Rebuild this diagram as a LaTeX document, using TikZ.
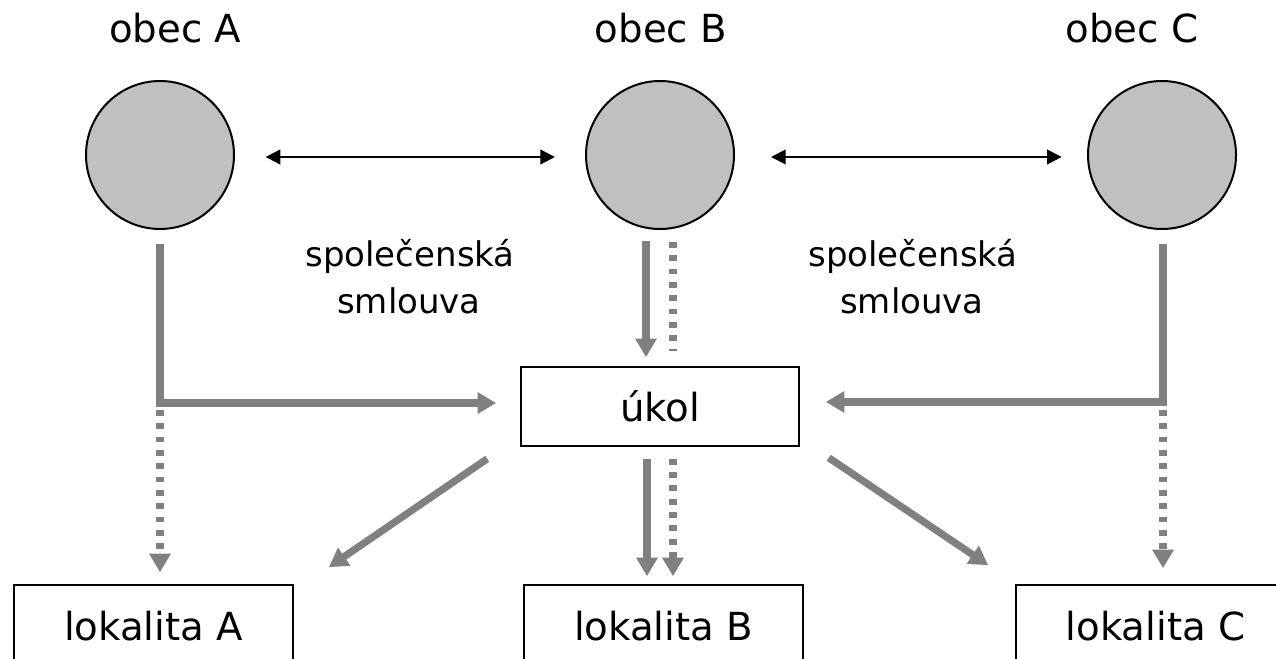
\documentclass[tikz,border=0pt]{standalone}
\usepackage{fontspec}
\setmainfont{DejaVu Sans}
\usetikzlibrary{arrows.meta}
\definecolor{arrgray}{HTML}{808080}
\definecolor{circgray}{HTML}{C0C0C0}
\tikzset{
  obec/.style={circle, draw=black, line width=1.5pt, fill=circgray, minimum size=111pt, inner sep=0pt},
  boxnode/.style={draw=black, line width=1.2pt, fill=white, inner sep=0pt, font=\fontsize{29}{35}\selectfont},
  lbl/.style={font=\fontsize{29}{35}\selectfont, anchor=base, inner sep=0pt},
  slbl/.style={font=\fontsize{25.5}{31}\selectfont, anchor=base, inner sep=0pt},
  blarrow/.style={draw=black, line width=1.6pt, {Triangle[length=11pt,width=11pt]}-{Triangle[length=11pt,width=11pt]}},
  garrow/.style={draw=arrgray, line width=5.4pt, -{Triangle[length=14pt,width=15.5pt]}},
  gdot/.style={draw=arrgray, line width=5.4pt, dash pattern=on 4.3pt off 5.7pt, -{Triangle[length=14pt,width=15.5pt]}},
  gdotplain/.style={draw=arrgray, line width=5.4pt, dash pattern=on 4.3pt off 5.7pt}
}
\begin{document}
\begin{tikzpicture}[x=0.75pt, y=-0.75pt]
\useasboundingbox (0,0) rectangle (1276,659);
% circles
\node[obec] (cA) at (160,155) {};
\node[obec] (cB) at (660,155) {};
\node[obec] (cC) at (1162,155) {};
% labels
\node[lbl] (tA) at (175,43) {obec A};
\node[lbl] (tB) at (661,43) {obec B};
\node[lbl] (tC) at (1132,43) {obec C};
\node[slbl] (s1a) at (410,266) {společenská};
\node[slbl] (s1b) at (409,313) {smlouva};
\node[slbl] (s2a) at (913,266) {společenská};
\node[slbl] (s2b) at (912,313) {smlouva};
% boxes
\node[boxnode, minimum width=208.5pt, minimum height=59.25pt] (ukol) at (660,406.5) {úkol};
\node[boxnode, minimum width=209.25pt, minimum height=61.5pt] (lokA) at (153.5,626) {lokalita A};
\node[boxnode, minimum width=209.25pt, minimum height=61.5pt] (lokB) at (663.5,626) {lokalita B};
\node[boxnode, minimum width=209.25pt, minimum height=61.5pt] (lokC) at (1155.5,626) {lokalita C};
% black double arrows
\draw[blarrow, shorten <=23pt, shorten >=22.5pt] ([yshift=-1.5pt]cA.east) -- ([yshift=-1.5pt]cB.west);
\draw[blarrow, shorten <=27pt, shorten >=19pt] ([yshift=-1.5pt]cB.east) -- ([yshift=-1.5pt]cC.west);
% A elbow
\coordinate (ukA) at ([yshift=2.6pt]ukol.west);
\draw[garrow, shorten <=10.5pt, shorten >=18pt] (cA.south) |- (ukA);
\coordinate (dA) at (160,410);
\draw[gdot, shorten >=9pt] (dA) -- (dA |- lokA.north);
% C elbow
\coordinate (ukC) at ([yshift=3.4pt]ukol.east);
\coordinate (cCs) at ([xshift=0.75pt]cC.south);
\draw[garrow, shorten <=10.5pt, shorten >=19.5pt] (cCs) |- (ukC);
\coordinate (dC) at (1163,410);
\draw[gdot, shorten >=12pt] (dC) -- (dC |- lokC.north);
% B to ukol
\coordinate (bS) at ([xshift=-10.5pt]cB.south);
\coordinate (bD) at ([xshift=9.75pt]cB.south);
\draw[garrow, shorten <=8.25pt, shorten >=6.75pt] (bS) -- (bS |- ukol.north);
\draw[gdotplain, shorten <=9pt, shorten >=11.25pt] (bD) -- (bD |- ukol.north);
% ukol to lokB
\coordinate (uS) at ([xshift=-9.75pt]ukol.south);
\coordinate (uD) at ([xshift=9.75pt]ukol.south);
\draw[garrow, shorten <=9pt, shorten >=6pt] (uS) -- (uS |- lokB.north);
\draw[gdot, shorten <=9pt, shorten >=6pt] (uD) -- (uD |- lokB.north);
% diagonals
\draw[garrow] ([xshift=-24.75pt,yshift=-9pt]ukol.south west) -- ([xshift=26.25pt,yshift=12.75pt]lokA.north east);
\draw[garrow] ([xshift=21.75pt,yshift=-8.25pt]ukol.south east) -- ([xshift=-20.25pt,yshift=14.25pt]lokC.north west);
\end{tikzpicture}
\end{document}
